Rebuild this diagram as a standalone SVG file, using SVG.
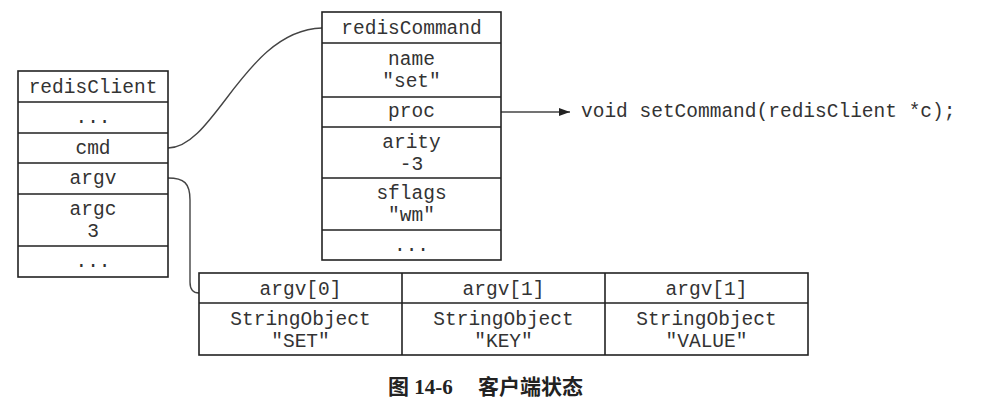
<svg xmlns="http://www.w3.org/2000/svg" width="1000" height="416" viewBox="0 0 1000 416">
<style>
.box{fill:#fff;stroke:#222;stroke-width:1.6}
.ln{stroke:#222;stroke-width:1.6;fill:none}
.t{font-family:"Liberation Mono","DejaVu Sans Mono",monospace;font-size:19.5px;fill:#333;text-anchor:middle}
.tl{font-family:"Liberation Mono","DejaVu Sans Mono",monospace;font-size:19.5px;fill:#333}
.con{stroke:#444;stroke-width:1.4;fill:none}
.cap{font-family:"Liberation Serif","Noto Sans CJK SC",serif;font-size:21px;fill:#222;font-weight:bold}
</style>
<defs>
<marker id="arr" markerWidth="12" markerHeight="10" refX="11" refY="5" orient="auto" markerUnits="userSpaceOnUse">
<path d="M0,1 L11,5 L0,9 Z" fill="#222"/>
</marker>
</defs>
<g id="connectors">
<path class="con" d="M168,148 C215,148 245,30 322,28"/>
<path class="con" d="M168,178 C184,178 190,183 190,200 L190,282 C190,290 194,293 199,293"/>
<path class="con" d="M501,112 L570,112" marker-end="url(#arr)"/>
</g>
<g id="redisClient">
<rect class="box" x="18" y="71" width="150" height="206"/>
<path class="ln" d="M18,102 H168 M18,133 H168 M18,163 H168 M18,194 H168 M18,246 H168"/>
<text class="t" x="93" y="93">redisClient</text>
<text class="t" x="93" y="123">...</text>
<text class="t" x="93" y="154">cmd</text>
<text class="t" x="93" y="184">argv</text>
<text class="t" x="93" y="215">argc</text>
<text class="t" x="93" y="237">3</text>
<text class="t" x="93" y="267">...</text>
</g>
<g id="redisCommand">
<rect class="box" x="322" y="12" width="179" height="248"/>
<path class="ln" d="M322,43 H501 M322,97 H501 M322,127 H501 M322,178 H501 M322,230 H501"/>
<text class="t" x="411.5" y="34">redisCommand</text>
<text class="t" x="411.5" y="65">name</text>
<text class="t" x="411.5" y="87">"set"</text>
<text class="t" x="411.5" y="117">proc</text>
<text class="t" x="411.5" y="148">arity</text>
<text class="t" x="411.5" y="170">-3</text>
<text class="t" x="411.5" y="199">sflags</text>
<text class="t" x="411.5" y="221">"wm"</text>
<text class="t" x="411.5" y="251">...</text>
</g>
<g id="setCommand">
<text class="tl" x="581" y="117">void setCommand(redisClient *c);</text>
</g>
<g id="argvTable">
<rect class="box" x="199" y="273" width="609" height="82"/>
<path class="ln" d="M199,303 H808 M402,273 V355 M605,273 V355"/>
<text class="t" x="300.5" y="295">argv[0]</text>
<text class="t" x="300.5" y="325">StringObject</text>
<text class="t" x="300.5" y="347">"SET"</text>
<text class="t" x="503.5" y="295">argv[1]</text>
<text class="t" x="503.5" y="325">StringObject</text>
<text class="t" x="503.5" y="347">"KEY"</text>
<text class="t" x="706.5" y="295">argv[1]</text>
<text class="t" x="706.5" y="325">StringObject</text>
<text class="t" x="706.5" y="347">"VALUE"</text>
</g>
<g id="caption">
<text class="cap" x="388" y="394">图 14-6</text>
<text class="cap" x="478" y="394">客户端状态</text>
</g>
</svg>
